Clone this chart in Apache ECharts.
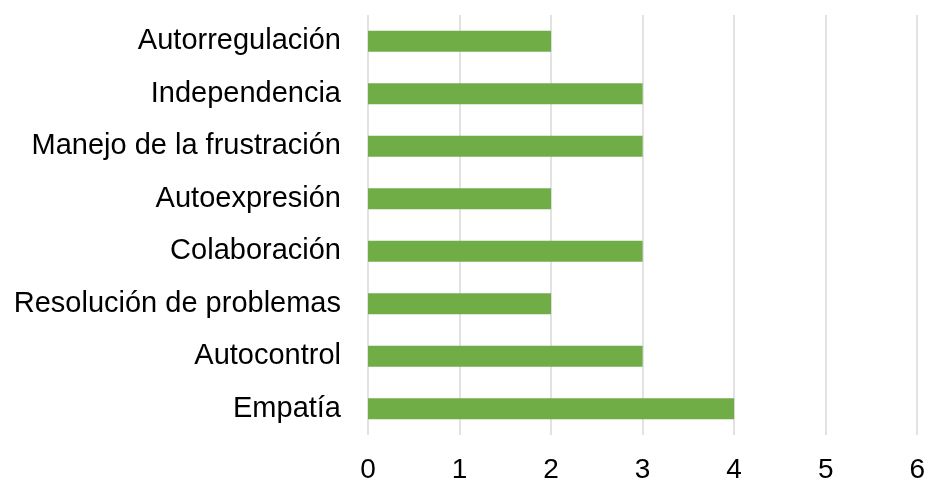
<!DOCTYPE html>
<html>
<head>
<meta charset="utf-8">
<script src="https://cdn.jsdelivr.net/npm/echarts@6/dist/echarts.min.js"></script>
<style>
  html, body { margin: 0; padding: 0; background: #fff; }
</style>
</head>
<body>
<div id="main" style="width: 928px; height: 484px"></div>
<script>
// categories from bottom to top (category axis on y starts at the bottom)
const categories = [
  "Empatía",
  "Autocontrol",
  "Resolución de problemas",
  "Colaboración",
  "Autoexpresión",
  "Manejo de la frustración",
  "Independencia",
  "Autorregulación"
];
const values = [4, 3, 2, 3, 2, 3, 3, 2];
const xTicks = [0, 1, 2, 3, 4, 5, 6];

const myChart = echarts.init(document.getElementById("main"));

const option = {
  animation: false,
  textStyle: { fontFamily: "Liberation Sans, Arial, sans-serif" },
  grid: {
    left: 368,
    right: 6,
    top: 15,
    bottom: 47,
    containLabel: false
  },
  xAxis: {
    type: "value",
    min: xTicks[0],
    max: xTicks[xTicks.length - 1],
    interval: 1,
    axisLine: { show: false },
    axisTick: { show: false },
    axisLabel: {
      color: "#000",
      fontSize: 28,
      margin: 21,
      fontFamily: "Liberation Sans, Arial, sans-serif"
    },
    splitLine: { lineStyle: { color: "#d9d9d9", width: 1.5 } }
  },
  yAxis: {
    type: "category",
    data: categories,
    axisLine: { show: false },
    axisTick: { show: false },
    axisLabel: {
      color: "#000",
      fontSize: 29,
      margin: 27,
      padding: [3, 0, 0, 0],
      fontFamily: "Liberation Sans, Arial, sans-serif"
    }
  },
  series: [
    {
      type: "bar",
      data: values,
      barWidth: 21,
      itemStyle: { color: "#70ad47" }
    }
  ]
};

myChart.setOption(option);
</script>
</body>
</html>
